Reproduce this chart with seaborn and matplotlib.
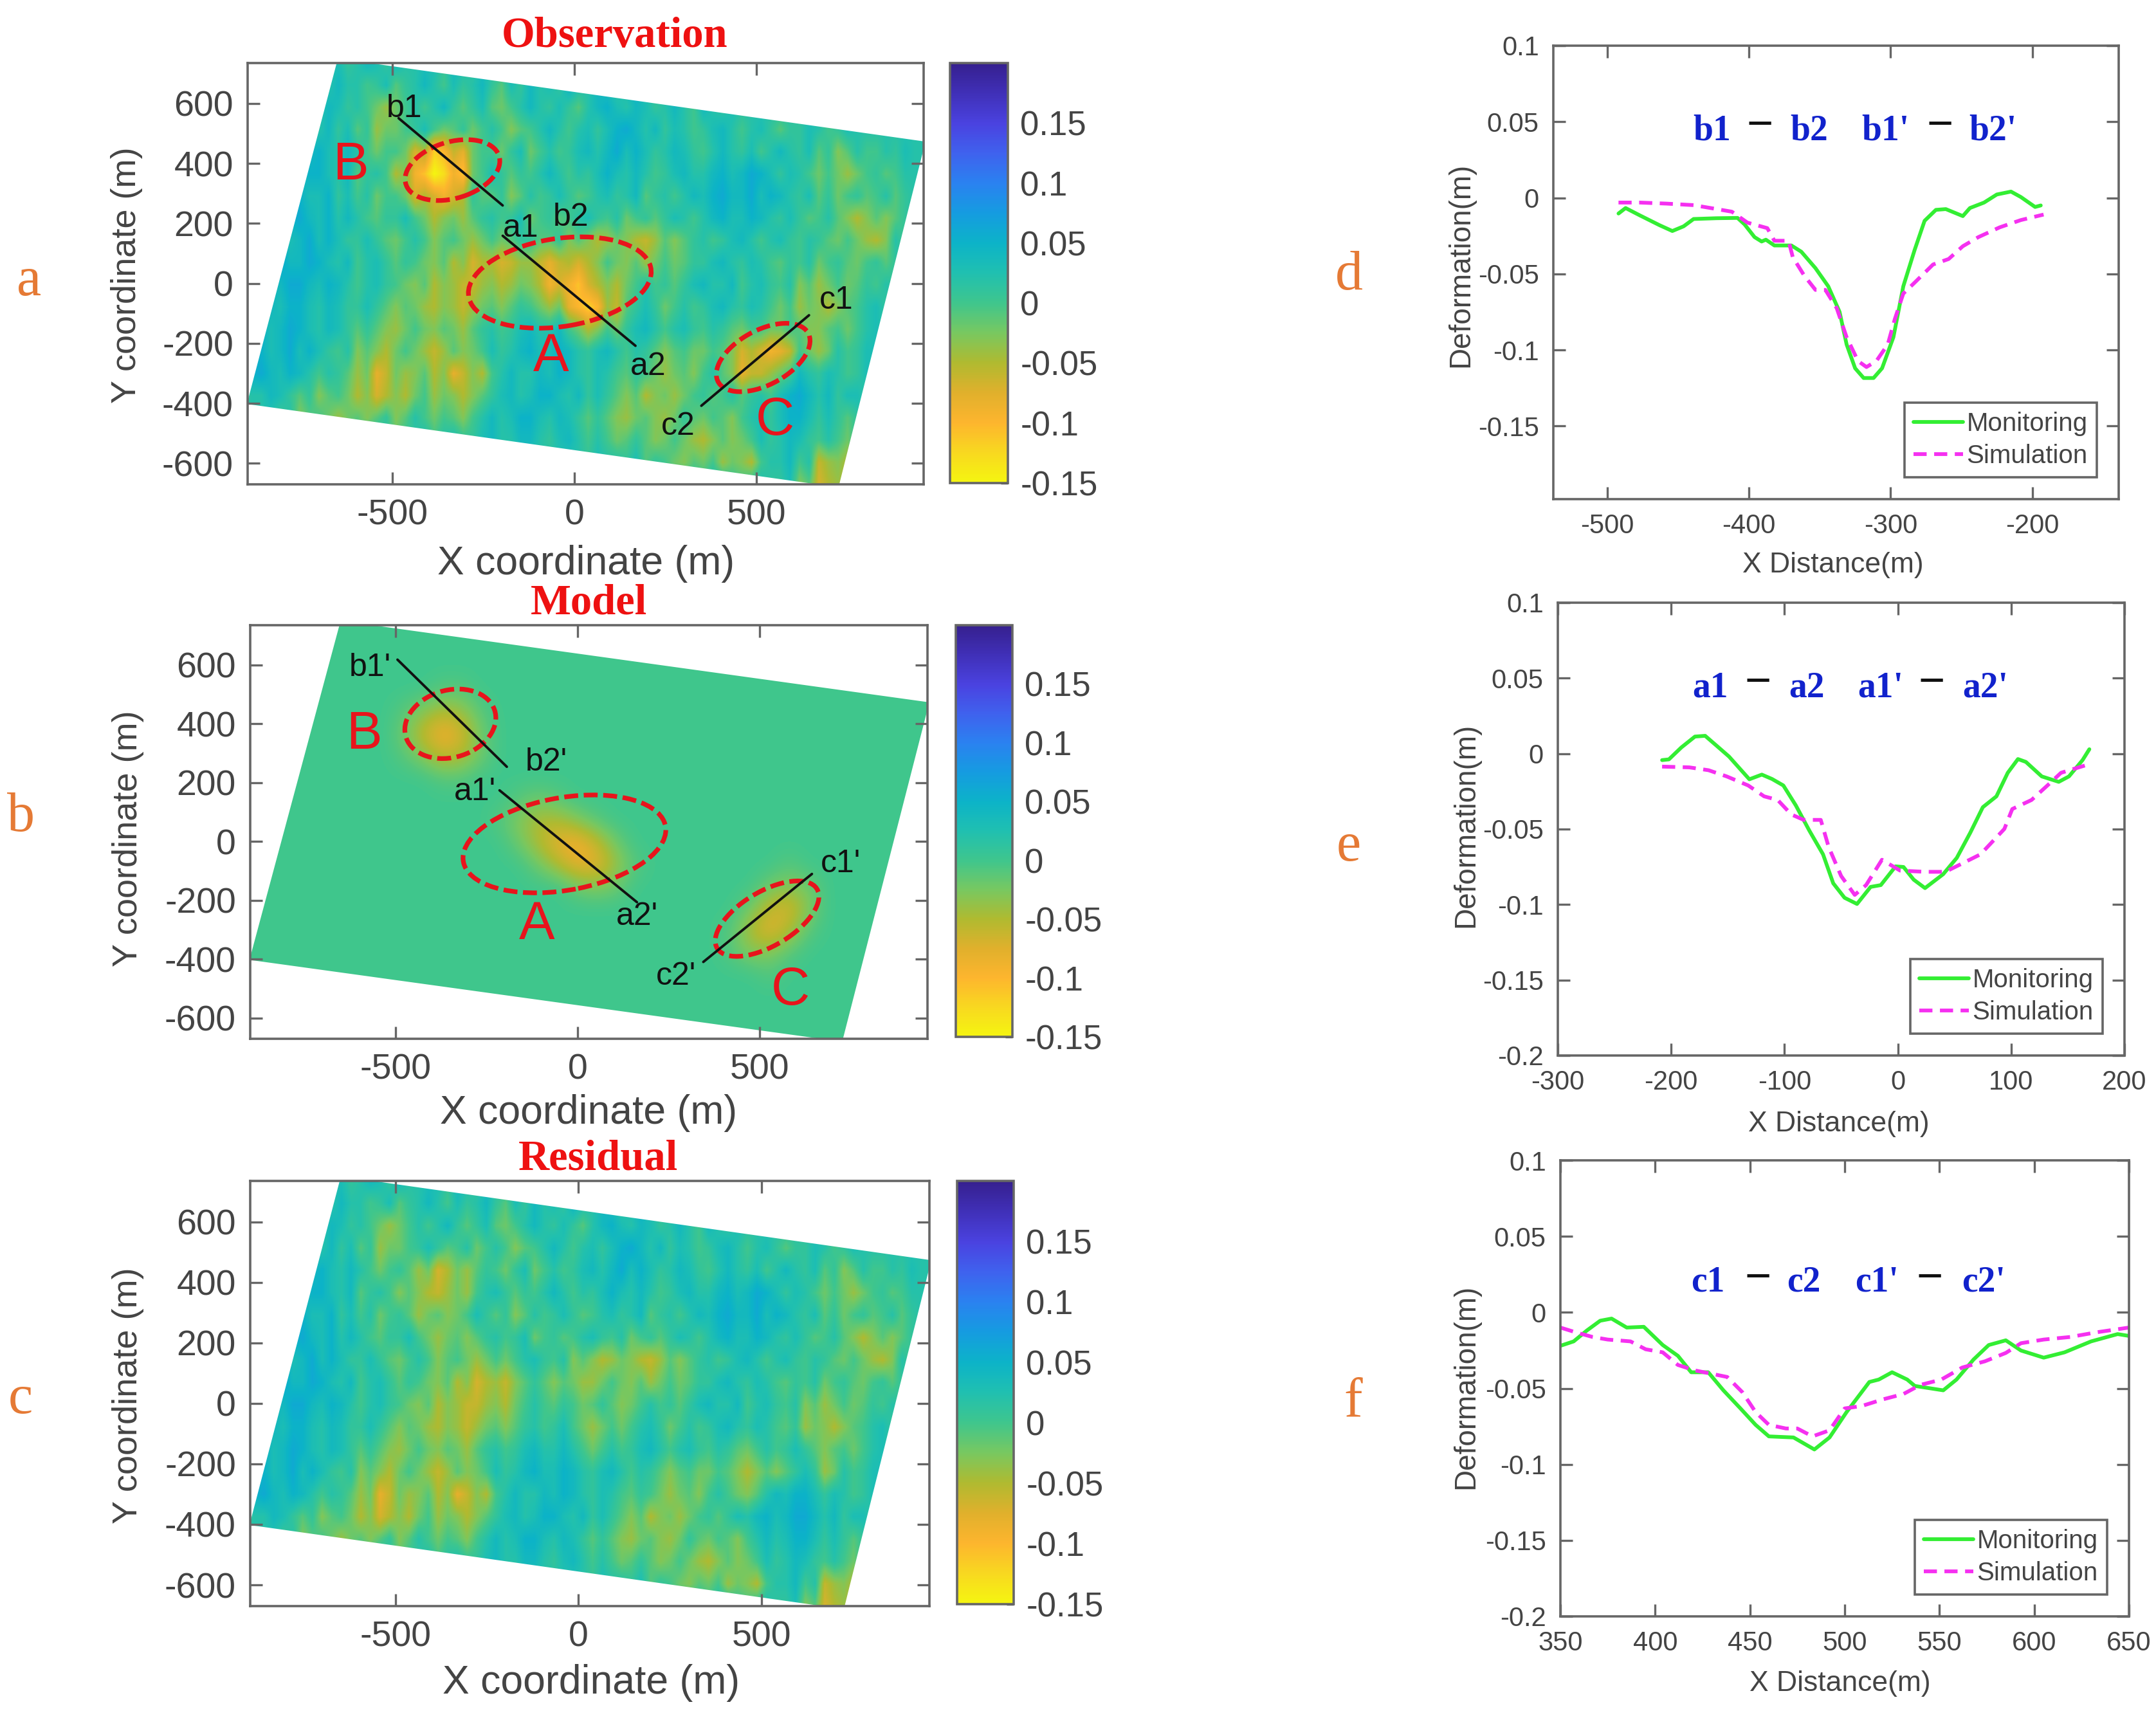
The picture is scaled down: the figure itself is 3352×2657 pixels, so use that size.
import numpy as np
import matplotlib
matplotlib.use('Agg')
import matplotlib.pyplot as plt
from matplotlib.patches import Ellipse, Polygon
import seaborn as sns

# values in cm on a 72 x 20 grid
residual_cm = [
    [2,2,2,2,2,2,2,2,2,2,3,1, 2,4,3,1,4,2,2,3,3,1,4,3, 1,3,2,3,4,2,1,3,3,2,4,2, 2,2,2,2,2,2,2,2,2,2,2,2, 2,2,2,2,2,2,2,2,2,2,2,2, 2,2,2,2,2,2,2,2,2,2,2,2],
    [2,2,2,2,2,2,2,2,2,2,4,2, 2,0,1,3,-1,1,2,4,2,0,3,1, 2,4,1,-1,3,1,4,2,3,1,5,3, 2,4,3,1,3,5,2,2,2,2,2,2, 2,2,2,2,2,2,2,2,2,2,2,2, 2,2,2,2,2,2,2,2,2,2,2,2],
    [2,2,2,2,2,2,2,2,2,4,3,1, 2,0,-2,-4,-2,0,2,0,2,4,1,-1, 1,3,-1,-2,0,2,4,2,1,3,1,-1, 2,4,5,3,2,4,3,1,2,4,2,0, 4,2,1,3,2,2,2,2,2,2,2,2, 2,2,2,2,2,2,2,2,2,2,2,2],
    [2,2,2,2,2,2,4,2,2,4,1,3, -1,1,-4,-2,-2,0,1,3,1,-1,0,2, -2,0,2,0,-3,-1,0,2,4,2,0,2, 3,1,3,5,6,4,2,4,1,3,2,0, 1,3,4,2,0,2,3,1,-1,1,1,3, 2,0,1,3,2,2,2,2,2,2,2,2],
    [2,2,2,2,2,2,2,4,5,3,2,4, 2,0,-2,0,1,-1,-4,-2,-7,-5,-2,-4, -1,1,0,-2,1,3,-2,0,2,0,1,3, 4,2,4,6,3,5,3,1,2,4,3,1, 0,2,4,2,1,3,0,2,4,2,1,3, -1,1,-3,-1,2,0,0,2,1,3,2,2],
    [2,2,2,2,2,2,3,5,5,3,2,4, -1,1,2,0,-3,-1,-3,-5,-6,-4,-2,-4, 0,2,3,1,-1,1,0,2,4,2,0,2, 1,3,5,3,2,4,2,0,1,3,4,2, 2,4,5,3,4,6,5,3,1,3,2,0, -2,0,-2,-4,-2,0,1,-1,0,2,2,2],
    [2,2,2,2,2,4,5,3,3,5,1,3, 0,2,-2,0,1,-1,-4,-2,-1,-3,-2,0, 3,1,-1,1,-3,-1,2,0,1,3,1,-1, 0,2,3,1,2,4,-1,1,2,0,2,4, 3,5,6,4,4,6,3,5,4,2,1,3, -1,1,-2,0,1,-1,0,2,-1,1,2,2],
    [2,2,2,2,3,5,6,4,3,5,2,4, 2,0,-1,1,1,3,0,-2,-4,-2,-1,-3, -1,1,2,0,1,3,-2,0,1,-1,0,2, 3,1,0,2,-2,0,1,-1,1,3,2,0, 2,4,5,3,3,5,4,2,1,3,1,-1, 0,2,-1,-3,-5,-3,-1,-3,-1,1,2,2],
    [2,2,2,4,5,3,4,6,3,5,3,1, 1,3,1,-1,-2,0,2,0,-3,-1,0,-2, -4,-2,0,-2,0,2,3,1,0,2,-3,-1, -3,-5,-4,-2,-3,-5,-6,-4,-1,-3,-1,1, 2,0,1,3,4,2,0,2,3,1,0,2, 1,-1,-2,0,-2,-4,-5,-3,2,0,1,3],
    [2,2,2,4,6,4,4,6,5,3,2,4, 0,2,3,1,-1,1,0,-2,-3,-1,-5,-3, -7,-5,-4,-6,-3,-1,1,-1,-3,-1,-2,-4, -4,-2,0,-2,-3,-1,-4,-2,0,-2,-1,1, 1,3,4,2,1,3,2,0,-1,1,0,2, -2,0,1,-1,-2,0,1,-1,1,3,2,2],
    [2,2,2,4,4,6,6,4,3,5,4,2, 0,2,3,1,0,-2,-3,-1,-5,-3,-4,-6, -6,-4,-3,-5,-2,0,2,0,-1,1,0,-2, -1,1,-1,-3,-2,0,2,0,1,-1,1,3, 4,2,2,4,0,2,3,1,0,2,-3,-1, -4,-2,0,-2,-1,1,0,2,1,3,2,2],
    [2,2,2,4,3,5,5,3,2,4,3,1, 1,3,1,-1,-3,-1,-2,-4,-5,-3,-4,-6, -4,-2,-1,-3,-1,1,2,0,1,3,0,-2, -4,-2,0,-2,0,2,3,1,-2,0,2,0, 1,3,4,2,1,3,2,0,-1,1,-4,-2, -3,-5,-3,-1,0,2,3,1,2,2,2,2],
    [2,4,5,3,4,6,5,3,2,4,3,1, -1,1,-1,-3,-4,-2,0,-2,-3,-1,-2,-4, -1,1,2,0,1,3,4,2,2,4,2,0, -2,0,2,0,1,3,4,2,0,2,3,1, 0,2,1,-1,-2,0,2,0,1,3,1,-1, -3,-1,0,-2,0,2,3,1,2,2,2,2],
    [2,4,5,3,4,6,3,5,3,1,0,2, -3,-1,-3,-5,-2,0,-2,-4,-6,-4,-1,-3, -2,0,3,1,2,4,5,3,3,5,4,2, 1,3,4,2,0,2,1,-1,-3,-1,0,-2, -2,0,-1,-3,-5,-3,-1,-3,-1,1,3,1, -4,-2,2,0,1,3,3,1,2,2,2,2],
    [3,5,6,4,3,5,4,2,0,2,1,-1, -4,-2,-8,-6,-2,-4,-3,-1,-5,-3,-8,-6, -3,-5,0,2,4,2,2,4,3,5,4,2, 1,3,2,0,-1,1,0,-2,-4,-2,-1,-3, 0,2,0,-2,-3,-1,2,4,3,5,5,3, 1,3,2,0,1,3,2,2,2,2,2,2],
    [0,2,2,4,3,1,-1,1,-3,-1,0,-2, -5,-3,-7,-5,-3,-5,-2,0,-4,-2,-3,-5, -3,-1,1,3,4,2,3,5,5,3,2,4, 1,3,1,-1,-3,-1,-5,-3,-2,-4,-2,0, 1,-1,1,3,2,4,5,3,4,6,6,4, 2,4,1,3,3,1,2,2,2,2,2,2],
    [2,2,2,2,0,2,-3,-1,0,-2,-4,-2, -1,-3,-1,1,-3,-1,2,0,-2,0,-1,-3, 0,2,4,2,3,5,5,3,2,4,3,1, -1,1,-1,-3,-4,-2,-1,-3,-4,-2,1,-1, -2,0,-1,-3,0,2,4,2,3,5,5,3, 1,3,1,-1,1,3,2,2,2,2,2,2],
    [2,2,2,2,2,2,2,2,2,2,2,0, 0,2,3,1,-1,1,1,3,0,2,3,1, 1,3,4,2,2,4,4,2,1,3,4,2, 0,2,0,-2,-1,1,-1,-3,-2,0,-2,-4, -5,-3,-1,-3,-2,0,3,1,2,4,3,1, 0,2,0,-2,1,3,2,2,2,2,2,2],
    [2,2,2,2,2,2,2,2,2,2,2,2, 2,2,2,2,2,2,2,2,2,2,2,2, 2,2,2,2,2,2,2,2,2,2,2,2, 1,3,2,2,1,3,-1,1,0,-2,-3,-1, -2,0,-4,-2,-3,-5,0,2,2,4,0,2, -6,-4,-3,-5,1,3,2,2,2,2,2,2],
    [2,2,2,2,2,2,2,2,2,2,2,2, 2,2,2,2,2,2,2,2,2,2,2,2, 2,2,2,2,2,2,2,2,2,2,2,2, 2,2,2,2,2,2,2,2,2,2,2,2, 1,3,3,1,0,2,3,1,1,3,-3,-1, -7,-5,-4,-6,2,2,2,2,2,2,2,2],
]
# model on a 36 x 20 grid
model_cm = [
    [0]*36,
    [0]*36,
    [0]*36,
    [0,0,0,0,0,0, 0,0,0,0,-1,-1, 0,0,0,0,0,0, 0,0,0,0,0,0, 0,0,0,0,0,0, 0,0,0,0,0,0],
    [0,0,0,0,0,0, 0,0,-1,-3,-5,-4, -1,0,0,0,0,0, 0,0,0,0,0,0, 0,0,0,0,0,0, 0,0,0,0,0,0],
    [0,0,0,0,0,0, 0,0,-2,-6,-9,-7, -2,0,0,0,0,0, 0,0,0,0,0,0, 0,0,0,0,0,0, 0,0,0,0,0,0],
    [0,0,0,0,0,0, 0,0,-1,-3,-6,-5, -2,0,0,0,0,0, 0,0,0,0,0,0, 0,0,0,0,0,0, 0,0,0,0,0,0],
    [0,0,0,0,0,0, 0,0,0,0,-1,-1, 0,0,0,0,0,0, 0,0,0,0,0,0, 0,0,0,0,0,0, 0,0,0,0,0,0],
    [0,0,0,0,0,0, 0,0,0,0,0,0, 0,0,-1,-2,-1,0, 0,0,0,0,0,0, 0,0,0,0,0,0, 0,0,0,0,0,0],
    [0,0,0,0,0,0, 0,0,0,0,0,0, 0,-1,-3,-5,-5,-3, -1,0,0,0,0,0, 0,0,0,0,0,0, 0,0,0,0,0,0],
    [0,0,0,0,0,0, 0,0,0,0,0,0, 0,0,-2,-5,-8,-9, -6,-2,0,0,0,0, 0,0,0,0,0,0, 0,0,0,0,0,0],
    [0,0,0,0,0,0, 0,0,0,0,0,0, 0,0,0,-2,-5,-8, -8,-4,-1,0,0,0, 0,0,0,0,-1,0, 0,0,0,0,0,0],
    [0,0,0,0,0,0, 0,0,0,0,0,0, 0,0,0,0,0,-2, -3,-2,0,0,0,0, 0,0,0,-2,-3,-2, 0,0,0,0,0,0],
    [0,0,0,0,0,0, 0,0,0,0,0,0, 0,0,0,0,0,0, 0,0,0,0,0,0, 0,0,-2,-6,-7,-3, 0,0,0,0,0,0],
    [0,0,0,0,0,0, 0,0,0,0,0,0, 0,0,0,0,0,0, 0,0,0,0,0,0, 0,-1,-5,-8,-5,-1, 0,0,0,0,0,0],
    [0,0,0,0,0,0, 0,0,0,0,0,0, 0,0,0,0,0,0, 0,0,0,0,0,0, 0,-1,-3,-3,-1,0, 0,0,0,0,0,0],
    [0,0,0,0,0,0, 0,0,0,0,0,0, 0,0,0,0,0,0, 0,0,0,0,0,0, 0,0,0,-1,0,0, 0,0,0,0,0,0],
    [0]*36,
    [0]*36,
    [0]*36,
]

# outline of the data swath (m)
swath_x = [-650, 965, 726, -900]
swath_y = [750, 473, -680, -402]

# profile d (b1-b2)
d_mon_x = [-492,-487,-477,-463,-454,-446,-439,-423,-408,-403,-396,-391,-388,-382,-370,-363,-353,-344,-336,-331,-325,-319,-312,-306,-298,-291,-283,-276,-268,-261,-249,-244,-234,-225,-215,-208,-198,-194]
d_mon_y = [-.0103,-.0067,-.0115,-.018,-.0218,-.0187,-.0139,-.0134,-.0132,-.0175,-.0258,-.0287,-.0275,-.0313,-.0313,-.0354,-.0462,-.0581,-.0749,-.0964,-.112,-.1184,-.1184,-.112,-.0916,-.0581,-.0342,-.0151,-.0079,-.0074,-.012,-.0067,-.0031,.0022,.0041,.0005,-.006,-.005]
d_sim_x = [-492,-477,-458,-439,-427,-412,-401,-387,-382,-372,-369,-361,-353,-346,-338,-331,-323,-317,-310,-302,-297,-291,-283,-270,-259,-249,-238,-223,-208,-192]
d_sim_y = [-.0031,-.0031,-.0038,-.0048,-.0067,-.0091,-.0163,-.0199,-.0282,-.0282,-.039,-.051,-.0605,-.0605,-.0725,-.0916,-.1072,-.1112,-.1072,-.0964,-.0797,-.0629,-.0557,-.0438,-.0402,-.0318,-.0258,-.0194,-.0146,-.011]

# profile e (a1-a2)
e_mon_x = [-208,-202,-191,-179,-170,-160,-149,-139,-131,-120,-111,-101,-90,-78,-66,-57,-47,-36,-24,-15,-2,5,14,24,40,52,64,75,87,97,106,113,127,142,151,163,169]
e_mon_y = [-.0043,-.0038,.0041,.0113,.0118,.0053,-.0019,-.0103,-.017,-.0139,-.0168,-.0211,-.0343,-.0511,-.0667,-.0859,-.0955,-.0996,-.0883,-.0871,-.0747,-.0751,-.0835,-.0891,-.0799,-.0691,-.0523,-.0355,-.0283,-.0127,-.0036,-.0055,-.0151,-.0187,-.0151,-.0043,.0029]
e_sim_x = [-208,-184,-167,-151,-132,-118,-106,-94,-83,-68,-61,-50,-38,-28,-14,2,24,42,57,73,85,94,101,118,132,144,165]
e_sim_y = [-.0086,-.0091,-.011,-.0151,-.0211,-.0283,-.0307,-.0403,-.0439,-.0439,-.0619,-.0811,-.0936,-.0871,-.0703,-.0775,-.0783,-.0783,-.0727,-.0667,-.0571,-.0499,-.0367,-.0307,-.0211,-.0127,-.0079]

# profile f (c1-c2)
f_mon_x = [350,357,364,371,377,385,394,404,412,419,428,436,445,453,460,473,484,492,501,513,518,525,533,537,552,559,568,576,585,593,605,616,630,644,650]
f_mon_y = [-.022,-.0191,-.0119,-.0055,-.0041,-.01,-.0095,-.0215,-.0286,-.0394,-.0394,-.0513,-.0632,-.074,-.0816,-.0823,-.0902,-.0823,-.0656,-.0458,-.0442,-.0394,-.0442,-.0484,-.0513,-.0442,-.031,-.0215,-.0184,-.0251,-.0298,-.0263,-.0191,-.0143,-.0155]
f_sim_x = [350,358,367,375,387,395,404,412,421,438,446,453,460,469,475,483,492,500,509,520,531,540,551,562,574,585,593,605,619,633,650]
f_sim_y = [-.01,-.0131,-.0162,-.0179,-.0191,-.0243,-.0263,-.0346,-.0382,-.0425,-.0525,-.0656,-.074,-.0764,-.0764,-.0816,-.0776,-.0632,-.0616,-.0573,-.0537,-.0477,-.0442,-.0363,-.0322,-.0267,-.0203,-.0179,-.0162,-.0131,-.01]

map_xticks = [-500, 0, 500]
map_yticks = [600, 400, 200, 0, -200, -400, -600]
cbar_ticks = [0.15, 0.1, 0.05, 0, -0.05, -0.1, -0.15]
cbar_labels = ['0.15', '0.1', '0.05', '0', '-0.05', '-0.1', '-0.15']

# colorbar colours from 0.2 down to -0.15 in steps of 0.025
cbar_colors = ['#36208f', '#4030b8', '#4a42e0', '#3f62ee', '#2a82f0', '#159ce0', '#0cb3c8', '#20c0b0',
               '#3fc68d', '#78c860', '#b0ba30', '#e0b02c', '#fdb52e', '#f8d820', '#f5f510']

W, H = 3352, 2657
sns.set_style('ticks')
plt.rcParams['font.family'] = ['Liberation Sans', 'DejaVu Sans']
plt.rcParams['axes.unicode_minus'] = False
GREY = '#444444'
SPINE = '#666666'
cmap = sns.blend_palette(cbar_colors[::-1], as_cmap=True)

fig = plt.figure(figsize=(W / 200, H / 200), dpi=200)


def px_axes(x0, x1, y0, y1):
    return fig.add_axes([x0 / W, 1 - y1 / H, (x1 - x0) / W, (y1 - y0) / H])


def put(x, y, s, **kw):
    kw.setdefault('ha', 'center')
    kw.setdefault('va', 'center')
    fig.text(x / W, 1 - y / H, s, **kw)


def style_axes(ax, size):
    ax.tick_params(direction='in', top=True, right=True, length=7, width=1.2,
                   color=SPINE, labelcolor=GREY, labelsize=size, pad=8)
    for s in ax.spines.values():
        s.set_visible(True)
        s.set_color(SPINE)
        s.set_linewidth(1.3)


def draw_map(box, cbox, field, title, tpos, xl, yl, smooth='bilinear'):
    ax = px_axes(*box)
    im = ax.imshow(np.array(field) / 100.0, extent=[-926, 976, -707, 772], origin='upper',
                   aspect='auto', cmap=cmap, vmin=-0.15, vmax=0.2, interpolation=smooth)
    clip = Polygon(list(zip(swath_x, swath_y)), closed=True, transform=ax.transData,
                   fc='none', ec='none')
    ax.add_patch(clip)
    im.set_clip_path(clip)
    ax.set_xlim(-898, 960)
    ax.set_ylim(-670, 735)
    ax.set_xticks(map_xticks, [str(v) for v in map_xticks])
    ax.set_yticks(map_yticks, [str(v) for v in map_yticks])
    style_axes(ax, 20)
    cax = px_axes(*cbox)
    cb = fig.colorbar(im, cax=cax, ticks=cbar_ticks)
    cb.ax.set_yticklabels(cbar_labels)
    cb.ax.tick_params(direction='in', length=4, width=1.2, color='#222222', labelsize=19,
                      labelcolor=GREY, pad=7)
    cb.outline.set_edgecolor(SPINE)
    cb.outline.set_linewidth(1.3)
    put(*xl, 'X coordinate (m)', fontsize=22.5, color=GREY)
    put(*yl, 'Y coordinate (m)', fontsize=19.5, color=GREY, rotation=90)
    put(*tpos, title, fontsize=24, color='#ee1111', fontweight='bold', family='Liberation Serif')
    return ax


def annotate_map(ax, lines, ellipses, labels, regions):
    for (x0, y0, x1, y1) in lines:
        ax.plot([x0, x1], [y0, y1], color='#111111', lw=1.4)
    for (cx, cy, a, b, ang) in ellipses:
        ax.add_patch(Ellipse((cx, cy), 2 * a, 2 * b, angle=ang, fc='none', ec='#e8141c',
                             lw=2.6, ls=(0, (3, 1.2))))
    for (x, y, s) in labels:
        ax.text(x, y, s, fontsize=18, color='#111111', ha='center', va='center')
    for (x, y, s) in regions:
        ax.text(x, y, s, fontsize=30, color='#e8141c', ha='center', va='center')


def draw_profile(box, mx, my, sx, sy, xticks, yticks, xlim, ylim, xl, yl):
    ax = px_axes(*box)
    sns.lineplot(x=mx, y=my, color='#33ee33', linewidth=2.1, sort=False, estimator=None,
                 label='Monitoring', ax=ax)
    sns.lineplot(x=sx, y=sy, color='#f530f0', linewidth=2.1, linestyle=(0, (3.5, 2)), sort=False,
                 estimator=None, label='Simulation', ax=ax)
    ax.set_xlim(*xlim)
    ax.set_ylim(*ylim)
    ax.set_xticks(xticks, [str(v) for v in xticks])
    ax.set_yticks(yticks, [f'{v:g}' for v in yticks])
    style_axes(ax, 15)
    ax.set_xlabel('')
    ax.set_ylabel('')
    w, h = box[1] - box[0], box[3] - box[2]
    leg = ax.legend(loc='lower right', bbox_to_anchor=(1 - 34 / w, 34 / h), borderaxespad=0,
                    fontsize=14.5, frameon=True, fancybox=False, framealpha=1, edgecolor=SPINE,
                    handlelength=1.9, handletextpad=0.15, labelspacing=0.3, borderpad=0.35)
    leg.get_frame().set_linewidth(1.3)
    for t in leg.get_texts():
        t.set_color(GREY)
    put(*xl, 'X Distance(m)', fontsize=16, color=GREY)
    put(*yl, 'Deformation(m)', fontsize=16.5, color=GREY, rotation=90)
    return ax


def header(y, items):
    for (x, s) in items:
        if s == '-':
            put(x, y - 12, '\u2013', fontsize=24, color='#111111', fontweight='bold', family='Liberation Serif')
        else:
            put(x, y, s, fontsize=20, color='#1122cc', fontweight='bold', family='Liberation Serif')


residual = np.array(residual_cm)
model = np.array(model_cm)
observation = residual + np.repeat(model, 2, axis=1)

ax_a = draw_map((385, 1436, 98, 753), (1477, 1567, 98, 751), observation, 'Observation',
                (956, 57), (911, 876), (197, 428))
annotate_map(ax_a,
             [(-483, 551, -197, 260), (-197, 159, 168, -208), (349, -408, 645, -106)],
             [(-335, 378, 137, 92, 25), (-40, 3, 255, 146, 12), (519, -247, 149, 86, 38)],
             [(-467, 582, 'b1'), (-148, 184, 'a1'), (-10, 220, 'b2'), (203, -278, 'a2'),
              (720, -57, 'c1'), (286, -476, 'c2')],
             [(-615, 395, 'B'), (-65, -245, 'A'), (552, -457, 'C')])

ax_b = draw_map((389, 1442, 972, 1615), (1486, 1574, 972, 1612), model, 'Model',
                (915, 938), (915, 1731), (199, 1304), smooth='bicubic')
annotate_map(ax_b,
             [(-494, 618, -194, 254), (-214, 174, 163, -206), (345, -409, 643, -110)],
             [(-349, 400, 132, 110, 36), (-36, -8, 284, 156, 14), (520, -262, 171, 86, 40)],
             [(-569, 591, "b1'"), (-86, 270, "b2'"), (-282, 168, "a1'"), (163, -255, "a2'"),
              (722, -75, "c1'"), (270, -458, "c2'")],
             [(-586, 364, 'B'), (-112, -283, 'A'), (584, -507, 'C')])

draw_map((389, 1445, 1836, 2497), (1488, 1576, 1836, 2494), residual, 'Residual',
         (930, 1802), (919, 2617), (199, 2170))

dy = [0.1, 0.05, 0, -0.05, -0.1, -0.15]
dy2 = dy + [-0.2]
draw_profile((2415, 3294, 71, 776), d_mon_x, d_mon_y, d_sim_x, d_sim_y,
             [-500, -400, -300, -200], dy, (-538, -139), (-0.198, 0.1), (2850, 878), (2271, 412))
draw_profile((2422, 3303, 937, 1641), e_mon_x, e_mon_y, e_sim_x, e_sim_y,
             [-300, -200, -100, 0, 100, 200], dy2, (-300, 200), (-0.2, 0.1), (2859, 1748), (2279, 1283))
draw_profile((2426, 3310, 1804, 2513), f_mon_x, f_mon_y, f_sim_x, f_sim_y,
             [350, 400, 450, 500, 550, 600, 650], dy2, (350, 650), (-0.2, 0.1), (2861, 2618), (2279, 2156))

header(203, [(2662, 'b1'), (2736, '-'), (2813, 'b2'), (2931, "b1'"), (3016, '-'), (3098, "b2'")])
header(1069, [(2659, 'a1'), (2733, '-'), (2809, 'a2'), (2924, "a1'"), (3003, '-'), (3087, "a2'")])
header(1994, [(2655, 'c1'), (2733, '-'), (2804, 'c2'), (2918, "c1'"), (3000, '-'), (3084, "c2'")])

for (x, y, s) in [(45, 438, 'a'), (32, 1271, 'b'), (32, 2176, 'c'),
                  (2097, 429, 'd'), (2097, 1317, 'e'), (2104, 2181, 'f')]:
    put(x, y, s, fontsize=31, color='#e57a35', family='Liberation Serif')

plt.savefig('out.png', dpi=200)
